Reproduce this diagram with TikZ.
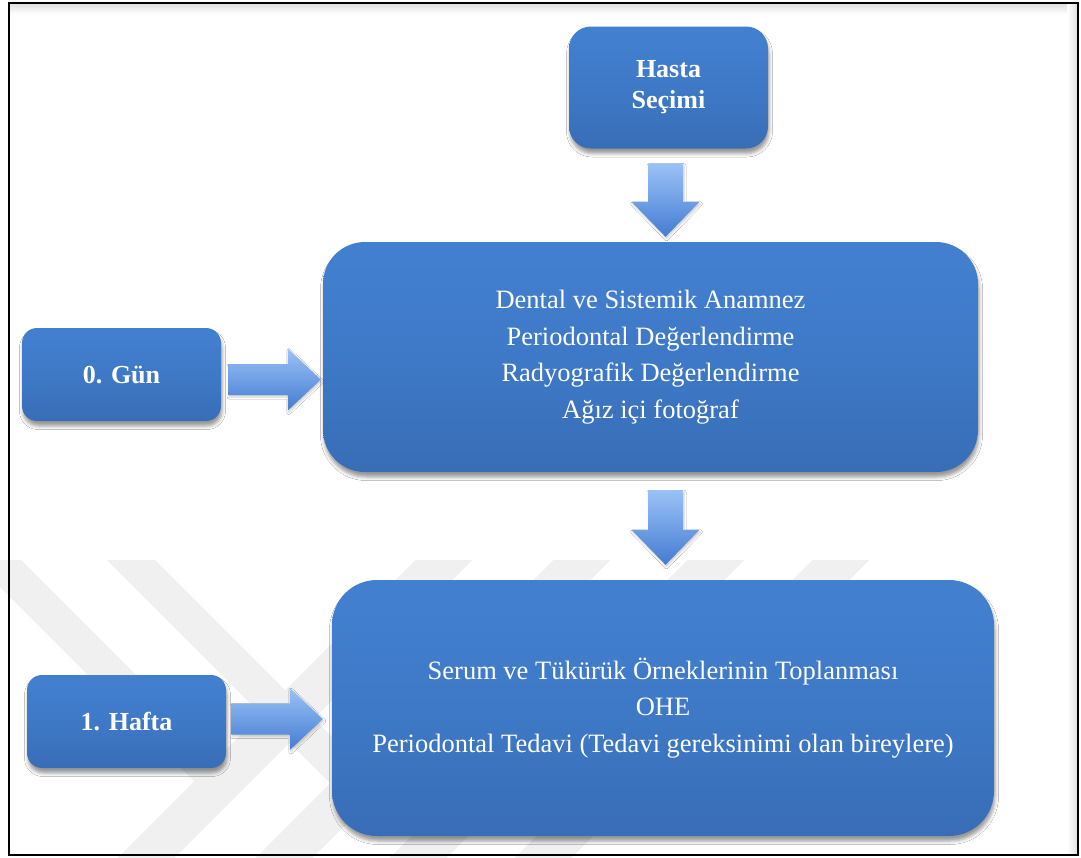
\documentclass[tikz,border=0pt]{standalone}
\usepackage{fontspec}
\setmainfont{Liberation Serif}
\usetikzlibrary{calc,shadows.blur}

% palette
\definecolor{bxT}{RGB}{70,134,214}
\definecolor{bxM}{RGB}{62,121,199}
\definecolor{bxD}{RGB}{52,99,168}
\definecolor{bxB}{RGB}{42,82,142}
\definecolor{bxH}{RGB}{135,186,244}
\definecolor{arrT}{RGB}{155,194,247}
\definecolor{arrB}{RGB}{68,124,210}
\definecolor{wm}{RGB}{240,240,240}

% bevelled blue fill: dark lower rim, bright upper rim
\pgfdeclareverticalshading{bevelblue}{100bp}{%
  color(0bp)=(bxB); color(4bp)=(bxD); color(50bp)=(bxM);
  color(94bp)=(bxT); color(97.5bp)=(bxH); color(100bp)=(bxT)}

% block arrow pointing down: #1 = top of the shaft, #2 = tip
\newcommand\downblock[2]{%
  \path[blockfill] let \p1=(#1), \p2=(#2) in
    (\x1-17.5pt,\y1) -- (\x1+17.5pt,\y1) -- (\x1+17.5pt,\y2+35pt)
    -- (\x1+34pt,\y2+35pt) -- (\x1,\y2) -- (\x1-34pt,\y2+35pt)
    -- (\x1-17.5pt,\y2+35pt) -- cycle;}

% block arrow pointing right: #1 = start of the shaft, #2 = tip
\newcommand\rightblock[2]{%
  \path[blockfill] let \p1=(#1), \p2=(#2) in
    (\x1,\y1+15.5pt) -- (\x2-33pt,\y1+15.5pt) -- (\x2-33pt,\y1+31pt)
    -- (\x2,\y1) -- (\x2-33pt,\y1-31pt) -- (\x2-33pt,\y1-15.5pt)
    -- (\x1,\y1-15.5pt) -- cycle;}

\begin{document}
\begin{tikzpicture}[x=1pt,y=-1pt,
  stagebox/.style={shading=bevelblue, rounded corners=#1, text=white,
    align=center, inner sep=0pt,
    blur shadow={shadow xshift=1pt, shadow yshift=-5pt,
      shadow blur radius=3.5pt, shadow opacity=40}},
  bigtext/.style={font=\fontsize{26.5}{36.5}\selectfont},
  smalltext/.style={font=\bfseries\fontsize{26}{31}\selectfont},
  blockfill/.style={top color=arrT, bottom color=arrB,
    blur shadow={shadow xshift=1pt, shadow yshift=-2pt,
      shadow blur radius=2pt, shadow opacity=20}},
  stripe/.style={draw=wm, line cap=butt}]

\useasboundingbox (0,0) rectangle (1081,857);
\fill[white] (0,0) rectangle (1081,857);

% faint chevron stripes in the lower band
\begin{scope}
  \clip (0,560) rectangle (1081,857);
  \draw[stripe, line width=34pt] (-300,263) -- (221.5,784.5);
  \draw[stripe, line width=34pt] (-300,129) -- (356.5,785.5);
  \draw[stripe, line width=40pt] (744,260) -- (104,900);
  \draw[stripe, line width=40pt] (882,260) -- (242,900);
  \draw[stripe, line width=40pt] (1016,260) -- (376,900);
  \draw[stripe, line width=40pt] (1141,260) -- (501,900);
\end{scope}

% page frame with a soft inner shadow
\shade[top color=black!12, bottom color=white] (10,4) rectangle (1077,14);
\shade[left color=white, right color=black!12] (1067,4) rectangle (1077,854);
\draw[line width=2.5pt] (9,3) rectangle (1078,855);

% stages
\node[stagebox=22pt, smalltext, minimum width=199pt, minimum height=122pt]
  (hasta) at (668.5,87.5) {Hasta\\Seçimi};
\node[stagebox=42pt, bigtext, minimum width=655pt, minimum height=230pt]
  (d1) at (650.5,357) {Dental ve Sistemik Anamnez\\Periodontal Değerlendirme\\Radyografik Değerlendirme\\Ağız içi fotoğraf};
\node[stagebox=45pt, bigtext, minimum width=662pt, minimum height=256pt]
  (d2) at (663,708) {Serum ve Tükürük Örneklerinin Toplanması\\OHE\\Periodontal Tedavi (Tedavi gereksinimi olan bireylere)};
\node[stagebox=15pt, smalltext, minimum width=199pt, minimum height=93pt]
  (zero) at (121.5,374.5) {0. Gün};
\node[stagebox=15pt, smalltext, minimum width=199pt, minimum height=93pt]
  (hafta) at (126.5,721.5) {1. Hafta};

% connectors
\coordinate (axis) at (665.5,0);
\coordinate (a1s) at ($(hasta.south -| axis)+(0,15)$);
\coordinate (a1t) at ($(d1.north -| axis)+(0,-5)$);
\downblock{a1s}{a1t}
\coordinate (a2s) at ($(d1.south -| axis)+(0,18)$);
\coordinate (a2t) at ($(d2.north -| axis)+(0,-15)$);
\downblock{a2s}{a2t}
\coordinate (a3s) at ($(zero.east)+(7,5)$);
\coordinate (a3t) at ($(a3s -| d1.west)+(-2,0)$);
\rightblock{a3s}{a3t}
\coordinate (a4s) at ($(hafta.east)+(5,-2.5)$);
\coordinate (a4t) at ($(a4s -| d2.west)+(-9,0)$);
\rightblock{a4s}{a4t}

\end{tikzpicture}
\end{document}
